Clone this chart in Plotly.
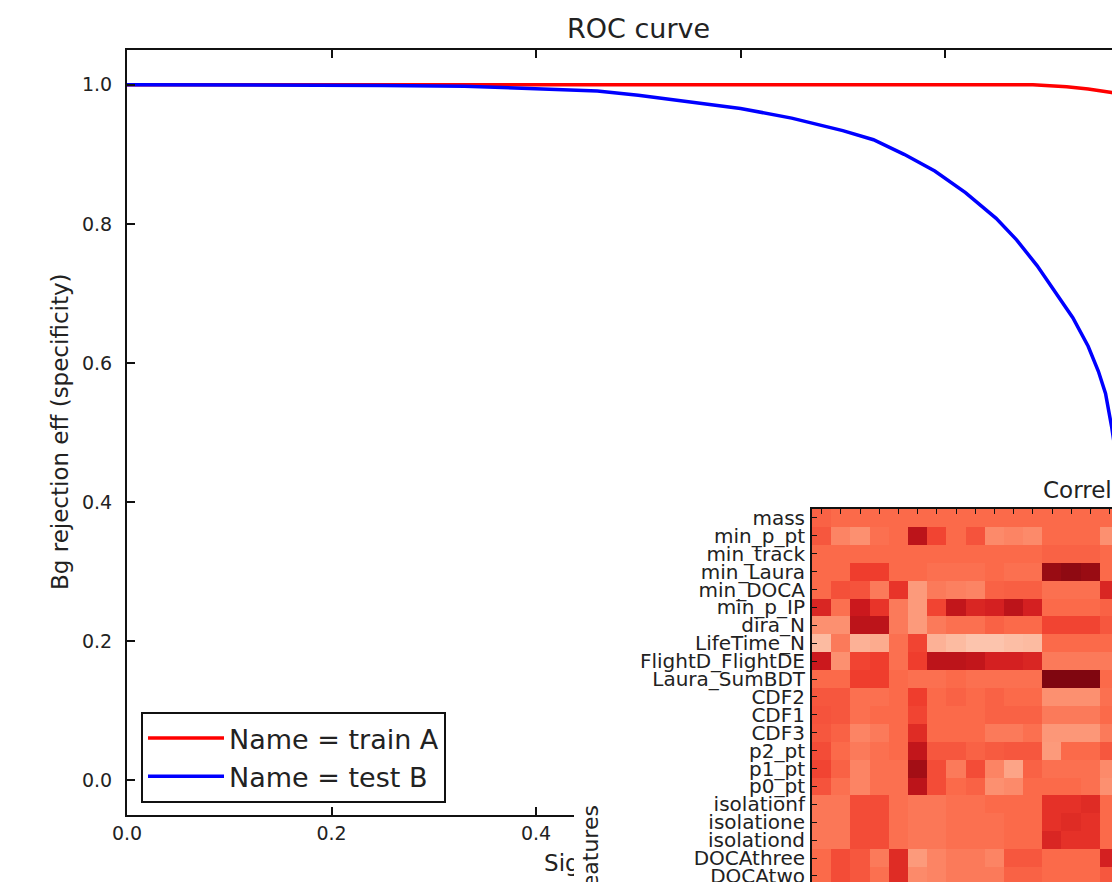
import plotly.graph_objects as go

W, H = 1112, 882
FONT = "DejaVu Sans"

# ---------------- ROC data ----------------
train_sig_eff = [0.0, 0.1, 0.2, 0.3, 0.4, 0.5, 0.6, 0.7, 0.8, 0.886, 0.919, 0.94, 0.963, 0.975]
train_bg_rej = [1.0, 1.0, 1.0, 1.0, 1.0, 1.0, 1.0, 1.0, 1.0, 1.0, 0.997, 0.994, 0.989, 0.982]

test_sig_eff = [0.0, 0.1, 0.2, 0.25, 0.33, 0.40, 0.46, 0.50, 0.55, 0.60, 0.65, 0.70, 0.73,
                0.76, 0.79, 0.82, 0.85, 0.87, 0.89, 0.91, 0.925, 0.94, 0.95, 0.957, 0.963, 0.97]
test_bg_rej = [1.0, 1.0, 0.9995, 0.999, 0.998, 0.9945, 0.991, 0.985, 0.976, 0.966, 0.952,
               0.934, 0.921, 0.900, 0.876, 0.845, 0.808, 0.777, 0.740, 0.698, 0.665, 0.624,
               0.588, 0.556, 0.508, 0.44]

x_ticks = [0.0, 0.2, 0.4, 0.6, 0.8, 1.0]
y_ticks = [0.0, 0.2, 0.4, 0.6, 0.8, 1.0]

# ---------------- correlation heatmap data ----------------
features = ["mass", "min_p_pt", "min_track", "min_Laura", "min_DOCA", "min_p_IP", "dira_N",
            "LifeTime_N", "FlightD_FlightDE", "Laura_SumBDT", "CDF2", "CDF1", "CDF3",
            "p2_pt", "p1_pt", "p0_pt", "isolationf", "isolatione", "isolationd",
            "DOCAthree", "DOCAtwo"]

corr_values = [
    [0.52, 0.50, 0.50, 0.50, 0.50, 0.50, 0.50, 0.50, 0.50, 0.50, 0.50, 0.50, 0.50, 0.50, 0.50, 0.50],
    [0.55, 0.42, 0.38, 0.48, 0.50, 0.80, 0.60, 0.50, 0.56, 0.40, 0.42, 0.40, 0.50, 0.50, 0.50, 0.38],
    [0.50, 0.50, 0.50, 0.50, 0.50, 0.50, 0.50, 0.50, 0.50, 0.50, 0.50, 0.50, 0.52, 0.52, 0.52, 0.50],
    [0.50, 0.50, 0.62, 0.62, 0.50, 0.50, 0.48, 0.48, 0.48, 0.50, 0.48, 0.48, 0.90, 0.92, 0.90, 0.50],
    [0.50, 0.57, 0.56, 0.45, 0.65, 0.35, 0.45, 0.43, 0.42, 0.52, 0.53, 0.53, 0.48, 0.48, 0.48, 0.70],
    [0.70, 0.48, 0.75, 0.65, 0.45, 0.35, 0.60, 0.78, 0.70, 0.72, 0.80, 0.72, 0.50, 0.50, 0.50, 0.52],
    [0.38, 0.38, 0.80, 0.80, 0.45, 0.35, 0.45, 0.48, 0.48, 0.52, 0.50, 0.50, 0.60, 0.60, 0.60, 0.55],
    [0.25, 0.45, 0.28, 0.30, 0.48, 0.60, 0.28, 0.25, 0.22, 0.22, 0.24, 0.25, 0.50, 0.50, 0.50, 0.50],
    [0.75, 0.38, 0.60, 0.62, 0.48, 0.62, 0.80, 0.80, 0.78, 0.72, 0.72, 0.70, 0.45, 0.45, 0.45, 0.45],
    [0.50, 0.50, 0.62, 0.62, 0.50, 0.48, 0.48, 0.50, 0.48, 0.48, 0.48, 0.48, 0.95, 0.95, 0.95, 0.50],
    [0.55, 0.55, 0.48, 0.48, 0.50, 0.62, 0.50, 0.52, 0.50, 0.52, 0.50, 0.50, 0.38, 0.38, 0.38, 0.48],
    [0.56, 0.55, 0.48, 0.50, 0.50, 0.60, 0.50, 0.50, 0.50, 0.52, 0.52, 0.52, 0.45, 0.45, 0.45, 0.50],
    [0.55, 0.52, 0.42, 0.45, 0.50, 0.68, 0.50, 0.50, 0.50, 0.45, 0.45, 0.48, 0.36, 0.36, 0.36, 0.45],
    [0.58, 0.50, 0.45, 0.48, 0.50, 0.78, 0.55, 0.55, 0.52, 0.54, 0.55, 0.55, 0.35, 0.50, 0.50, 0.55],
    [0.60, 0.52, 0.42, 0.48, 0.48, 0.88, 0.58, 0.45, 0.58, 0.42, 0.32, 0.52, 0.48, 0.48, 0.48, 0.40],
    [0.56, 0.48, 0.42, 0.48, 0.48, 0.80, 0.58, 0.50, 0.52, 0.38, 0.40, 0.50, 0.50, 0.50, 0.48, 0.38],
    [0.46, 0.46, 0.58, 0.58, 0.48, 0.46, 0.46, 0.48, 0.48, 0.50, 0.50, 0.50, 0.66, 0.66, 0.68, 0.50],
    [0.46, 0.46, 0.58, 0.58, 0.48, 0.46, 0.46, 0.48, 0.48, 0.48, 0.50, 0.50, 0.66, 0.68, 0.66, 0.50],
    [0.46, 0.46, 0.58, 0.58, 0.48, 0.46, 0.46, 0.48, 0.48, 0.48, 0.50, 0.50, 0.70, 0.66, 0.66, 0.50],
    [0.50, 0.58, 0.55, 0.45, 0.68, 0.35, 0.42, 0.45, 0.45, 0.42, 0.55, 0.55, 0.50, 0.50, 0.50, 0.72],
    [0.50, 0.58, 0.55, 0.48, 0.68, 0.40, 0.42, 0.45, 0.45, 0.45, 0.52, 0.52, 0.50, 0.50, 0.50, 0.55],
]

# matplotlib "Reds"
mpl_reds = [[0.0, "#fff5f0"], [0.125, "#fee0d2"], [0.25, "#fcbba1"], [0.375, "#fc9272"],
            [0.5, "#fb6a4a"], [0.625, "#ef3b2c"], [0.75, "#cb181d"], [0.875, "#a50f15"],
            [1.0, "#67000d"]]

# ---------------- layout geometry (pixels) ----------------
roc_left, roc_top, roc_bottom = 127, 50, 815
px_per_unit_x = 1022.5
label_top = 845
panel_left, panel_top = 574, 470
hm_left, hm_top = 812, 509
cell_w, cell_h = 19.2, 17.9


def fx(p):
    return p / W


def fy(p):
    return 1 - p / H


roc_xmax = (W - roc_left) / px_per_unit_x

fig = go.Figure()

fig.add_trace(go.Scatter(x=train_sig_eff, y=train_bg_rej, mode="lines",
                         line=dict(color="#ff0000", width=3.5), name="Name = train A",
                         xaxis="x", yaxis="y"))
fig.add_trace(go.Scatter(x=test_sig_eff, y=test_bg_rej, mode="lines",
                         line=dict(color="#0000ff", width=3.5),
                         name="Name = test B", xaxis="x", yaxis="y"))

# x-axis label of the ROC plot, in its own strip so the overlapping panel hides most of it
fig.add_trace(go.Scatter(x=[0.5], y=[0.45], mode="text", text=["Signal efficiency"],
                         textposition="middle center",
                         textfont=dict(family=FONT, size=23, color="#222222"),
                         cliponaxis=False, showlegend=False, hoverinfo="skip",
                         xaxis="x2", yaxis="y2"))

# blank white panel (second figure background)
fig.add_trace(go.Scatter(x=[None], y=[None], xaxis="x3", yaxis="y3",
                         showlegend=False, hoverinfo="skip"))

# correlation heatmap
fig.add_trace(go.Heatmap(z=corr_values, x=list(range(len(corr_values[0]))),
                         y=list(range(len(features))), colorscale=mpl_reds,
                         zmin=0, zmax=1, showscale=False, xaxis="x4", yaxis="y4",
                         hoverinfo="skip"))

axis_common = dict(showgrid=False, zeroline=False, showline=True, linecolor="#111111",
                   linewidth=2, ticks="inside", tickcolor="#111111", automargin=False,
                   tickfont=dict(family=FONT, size=19, color="#222222"))
hidden_axis = dict(visible=False, automargin=False, showgrid=False, zeroline=False)

n_cols_vis = (W - hm_left) / cell_w
n_rows_vis = (H - hm_top) / cell_h

fig.update_layout(
    template="none",
    width=W, height=H, margin=dict(l=0, r=0, t=0, b=0, pad=0, autoexpand=False),
    paper_bgcolor="white", plot_bgcolor="white",
    font=dict(family=FONT, color="#222222"),
    showlegend=True,
    xaxis=dict(domain=[fx(roc_left), 1], range=[0, roc_xmax],
               tickvals=x_ticks, tickformat=".1f", mirror="ticks", ticklen=8,
               tickwidth=1.5, anchor="y", ticklabelstandoff=0, **axis_common),
    yaxis=dict(domain=[fy(roc_bottom), fy(roc_top)], range=[-0.05, 1.05],
               tickvals=y_ticks, tickformat=".1f", ticklen=8, tickwidth=1.5,
               anchor="x", ticklabelstandoff=9, **axis_common),
    xaxis2=dict(domain=[fx(roc_left), 1], range=[0, roc_xmax], anchor="y2", **hidden_axis),
    yaxis2=dict(domain=[0, fy(label_top)], range=[0, 1], anchor="x2", **hidden_axis),
    xaxis3=dict(domain=[fx(panel_left), 1], range=[0, 1], anchor="y3", **hidden_axis),
    yaxis3=dict(domain=[0, fy(panel_top)], range=[0, 1], anchor="x3", **hidden_axis),
    xaxis4=dict(domain=[fx(hm_left), 1], range=[-0.5, -0.5 + n_cols_vis], side="top",
                anchor="y4", showticklabels=False, ticklen=5, tickwidth=1,
                tickvals=list(range(len(corr_values[0]))), **axis_common),
    yaxis4=dict(domain=[0, fy(hm_top)], range=[-0.5 + n_rows_vis, -0.5], anchor="x4",
                tickvals=list(range(len(features))), ticktext=features, ticklen=5,
                tickwidth=1, ticklabelstandoff=1, ticklabeloverflow="allow",
                **{**axis_common, "tickfont": dict(family=FONT, size=20, color="#222222")}),
    legend=dict(x=fx(141), y=fy(712), xanchor="left", yanchor="top",
                bordercolor="#111111", borderwidth=2, bgcolor="white",
                font=dict(family=FONT, size=27, color="#222222"), itemwidth=76,
                tracegroupgap=0),
    annotations=[
        dict(text="ROC curve", x=fx(638), y=fy(28), xref="paper", yref="paper",
             showarrow=False, font=dict(family=FONT, size=27, color="#222222"),
             xanchor="center", yanchor="middle"),
        dict(text="Bg rejection eff (specificity)", x=fx(60), y=fy(432), xref="paper",
             yref="paper", showarrow=False, textangle=-90,
             font=dict(family=FONT, size=23, color="#222222"),
             xanchor="center", yanchor="middle"),
        dict(text="Correlation for signal", x=fx(1041), y=fy(490), xref="paper",
             yref="paper", showarrow=False,
             font=dict(family=FONT, size=23, color="#222222"),
             xanchor="left", yanchor="middle"),
        dict(text="features", x=fx(590), y=fy(851), xref="paper", yref="paper",
             showarrow=False, textangle=-90,
             font=dict(family=FONT, size=22, color="#222222"),
             xanchor="center", yanchor="middle"),
    ],
)

fig.write_html("out.html")
